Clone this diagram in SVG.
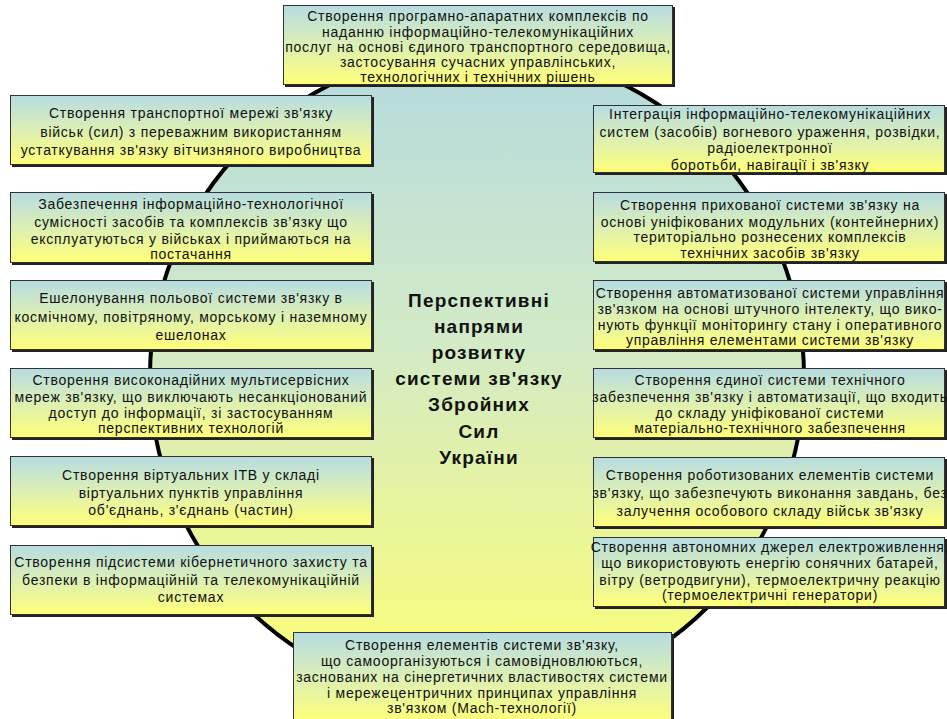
<svg xmlns="http://www.w3.org/2000/svg" width="947" height="719" viewBox="0 0 947 719">
<defs>
<linearGradient id="boxGrad" x1="0" y1="0" x2="0" y2="1">
<stop offset="0" stop-color="#b6dce2"/>
<stop offset="0.5" stop-color="#dcefb4"/>
<stop offset="1" stop-color="#ffff78"/>
</linearGradient>
<linearGradient id="ellGrad" gradientUnits="userSpaceOnUse" x1="0" y1="50" x2="0" y2="702">
<stop offset="0" stop-color="#b4dade"/>
<stop offset="0.45" stop-color="#d2eac6"/>
<stop offset="1" stop-color="#ffff70"/>
</linearGradient>
<style>
.shadow{fill:#222;}
.box{fill:url(#boxGrad);stroke:#333;stroke-width:1;}
.t{font-family:"Liberation Sans",Arial,sans-serif;font-size:14px;letter-spacing:0.75px;fill:#111;text-anchor:middle;}
.c{font-family:"Liberation Sans",Arial,sans-serif;font-size:19px;letter-spacing:1.2px;font-weight:bold;fill:#111;text-anchor:middle;}
</style>
</defs>
<rect x="0" y="0" width="947" height="719" fill="#ffffff"/>
<g id="center">
<ellipse cx="477" cy="376" rx="327" ry="326" fill="url(#ellGrad)" stroke="#000" stroke-width="4"/>
<text class="c" x="479" y="307">Перспективні</text>
<text class="c" x="479" y="333">напрями</text>
<text class="c" x="479" y="359">розвитку</text>
<text class="c" x="479" y="385">системи зв'язку</text>
<text class="c" x="479" y="411">Збройних</text>
<text class="c" x="479" y="438">Сил</text>
<text class="c" x="479" y="464">України</text>
</g>
<g id="connectors"></g>
<g id="top">
<rect class="shadow" x="285" y="7" width="390" height="80"/>
<rect class="box" x="283.5" y="5.5" width="389" height="79"/>
<text class="t" x="478" y="21">Створення програмно-апаратних комплексів по</text>
<text class="t" x="478" y="37">наданню інформаційно-телекомунікаційних</text>
<text class="t" x="478" y="52">послуг на основі єдиного транспортного середовища,</text>
<text class="t" x="478" y="67">застосування сучасних управлінських,</text>
<text class="t" x="478" y="82">технологічних і технічних рішень</text>
</g>
<g id="left1">
<rect class="shadow" x="12" y="97" width="362" height="70"/>
<rect class="box" x="10.5" y="95.5" width="361" height="69"/>
<text class="t" x="191" y="118">Створення транспортної мережі зв'язку</text>
<text class="t" x="191" y="137">військ (сил) з переважним використанням</text>
<text class="t" x="191" y="155">устаткування зв'язку вітчизняного виробництва</text>
</g>
<g id="left2">
<rect class="shadow" x="12" y="194" width="362" height="71"/>
<rect class="box" x="10.5" y="192.5" width="361" height="70"/>
<text class="t" x="191" y="209">Забезпечення інформаційно-технологічної</text>
<text class="t" x="191" y="227">сумісності засобів та комплексів зв’язку що</text>
<text class="t" x="191" y="244">експлуатуються у військах і  приймаються на</text>
<text class="t" x="191" y="259">постачання</text>
</g>
<g id="left3">
<rect class="shadow" x="12" y="282" width="362" height="70"/>
<rect class="box" x="10.5" y="280.5" width="361" height="69"/>
<text class="t" x="191" y="303">Ешелонування польової системи зв'язку в</text>
<text class="t" x="191" y="322">космічному, повітряному, морському і наземному</text>
<text class="t" x="191" y="340">ешелонах</text>
</g>
<g id="left4">
<rect class="shadow" x="12" y="370" width="362" height="70"/>
<rect class="box" x="10.5" y="368.5" width="361" height="69"/>
<text class="t" x="191" y="385">Створення високонадійних мультисервісних</text>
<text class="t" x="191" y="402">мереж зв'язку, що виключають несанкціонований</text>
<text class="t" x="191" y="418">доступ до інформації, зі застосуванням</text>
<text class="t" x="191" y="433">перспективних технологій</text>
</g>
<g id="left5">
<rect class="shadow" x="12" y="458" width="362" height="70"/>
<rect class="box" x="10.5" y="456.5" width="361" height="69"/>
<text class="t" x="191" y="480">Створення віртуальних ІТВ у складі</text>
<text class="t" x="191" y="498">віртуальних пунктів управління</text>
<text class="t" x="191" y="515">об'єднань, з'єднань (частин)</text>
</g>
<g id="left6">
<rect class="shadow" x="12" y="547" width="362" height="70"/>
<rect class="box" x="10.5" y="545.5" width="361" height="69"/>
<text class="t" x="191" y="567">Створення підсистеми кібернетичного захисту та</text>
<text class="t" x="191" y="585">безпеки в інформаційній та телекомунікаційній</text>
<text class="t" x="191" y="602">системах</text>
</g>
<g id="right1">
<rect class="shadow" x="595" y="107" width="352" height="68"/>
<rect class="box" x="593.5" y="105.5" width="351" height="67"/>
<text class="t" x="770" y="119">Інтеграція інформаційно-телекомунікаційних</text>
<text class="t" x="770" y="137">систем (засобів) вогневого ураження, розвідки,</text>
<text class="t" x="770" y="153">радіоелектронної</text>
<text class="t" x="770" y="170">боротьби, навігації і зв'язку</text>
</g>
<g id="right2">
<rect class="shadow" x="595" y="194" width="352" height="70"/>
<rect class="box" x="593.5" y="192.5" width="351" height="69"/>
<text class="t" x="770" y="210">Створення прихованої системи зв'язку на</text>
<text class="t" x="770" y="227">основі уніфікованих модульних (контейнерних)</text>
<text class="t" x="770" y="242">територіально рознесених комплексів</text>
<text class="t" x="770" y="258">технічних засобів зв'язку</text>
</g>
<g id="right3">
<rect class="shadow" x="595" y="282" width="352" height="70"/>
<rect class="box" x="593.5" y="280.5" width="351" height="69"/>
<text class="t" x="770" y="298">Створення автоматизованої системи управління</text>
<text class="t" x="770" y="314">зв'язком на основі штучного інтелекту, що вико-</text>
<text class="t" x="770" y="330">нують функції моніторингу стану і оперативного</text>
<text class="t" x="770" y="345">управління елементами системи зв'язку</text>
</g>
<g id="right4">
<rect class="shadow" x="595" y="370" width="352" height="70"/>
<rect class="box" x="593.5" y="368.5" width="351" height="69"/>
<text class="t" x="770" y="385">Створення єдиної системи технічного</text>
<text class="t" x="770" y="402">забезпечення зв'язку і автоматизації, що входить</text>
<text class="t" x="770" y="418">до складу уніфікованої системи</text>
<text class="t" x="770" y="433">матеріально-технічного забезпечення</text>
</g>
<g id="right5">
<rect class="shadow" x="595" y="459" width="352" height="70"/>
<rect class="box" x="593.5" y="457.5" width="351" height="69"/>
<text class="t" x="770" y="480">Створення роботизованих елементів системи</text>
<text class="t" x="770" y="498">зв'язку, що забезпечують виконання завдань, без</text>
<text class="t" x="770" y="516">залучення особового складу військ зв'язку</text>
</g>
<g id="right6">
<rect class="shadow" x="595" y="539" width="352" height="70"/>
<rect class="box" x="593.5" y="537.5" width="351" height="69"/>
<text class="t" x="770" y="552">Створення автономних джерел електроживлення,</text>
<text class="t" x="770" y="568">що використовують енергію сонячних батарей,</text>
<text class="t" x="770" y="585">вітру (ветродвигуни), термоелектричну реакцію</text>
<text class="t" x="770" y="600">(термоелектричні генератори)</text>
</g>
<g id="bottom">
<rect class="shadow" x="295" y="634" width="379" height="90"/>
<rect class="box" x="293.5" y="632.5" width="378" height="90"/>
<text class="t" x="482" y="650">Створення елементів системи зв'язку,</text>
<text class="t" x="482" y="666">що самоорганізуються і самовідновлюються,</text>
<text class="t" x="482" y="682">заснованих на сінергетичних властивостях системи</text>
<text class="t" x="482" y="698">і мережецентричних  принципах управління</text>
<text class="t" x="482" y="713">зв'язком (Mach-технології)</text>
</g>
</svg>
